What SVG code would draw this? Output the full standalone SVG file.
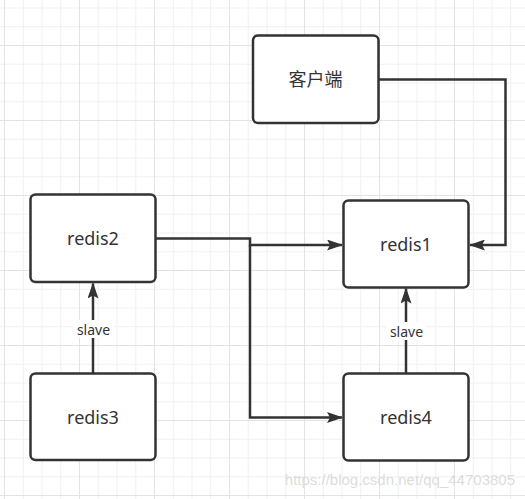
<svg xmlns="http://www.w3.org/2000/svg" width="525" height="499" viewBox="0 0 525 499">
<defs>
<pattern id="minor" x="4" y="7.5" width="18.75" height="18.75" patternUnits="userSpaceOnUse">
<path d="M0.5 0V18.75M0 0.5H18.75" fill="none" stroke="#f0f0f0" stroke-width="1"/>
</pattern>
<pattern id="major" x="4" y="-30" width="75" height="75" patternUnits="userSpaceOnUse">
<path d="M0.5 0V75M0 0.5H75" fill="none" stroke="#e3e3e3" stroke-width="1"/>
</pattern>
<marker id="arr" viewBox="0 0 16 11" refX="15" refY="5.5" markerWidth="16" markerHeight="11" orient="auto" markerUnits="userSpaceOnUse">
<path d="M0 0L16 5.5L0 11L3 5.5Z" fill="#333"/>
</marker>
</defs>
<style>
.node rect{fill:#fff;stroke:#333;stroke-width:2.5}
.node text{font-family:"Noto Sans","Noto Sans CJK SC",sans-serif;font-size:18px;fill:#333;text-anchor:middle;dominant-baseline:central}
.edge{fill:none;stroke:#333;stroke-width:2.5}
.lbl{font-family:"Noto Sans",sans-serif;font-size:14px;fill:#333;text-anchor:middle;dominant-baseline:central}
</style>
<rect width="525" height="499" fill="#fff"/>
<rect width="525" height="499" fill="url(#minor)"/>
<rect width="525" height="499" fill="url(#major)"/>
<g id="connectors">
<path class="edge" d="M379 79.5H505.5V245H470" marker-end="url(#arr)"/>
<path class="edge" d="M155.5 238.5H250V245H342" marker-end="url(#arr)"/>
<path class="edge" d="M250 245V417.5H342" marker-end="url(#arr)"/>
<path class="edge" d="M93 373V283.5" marker-end="url(#arr)"/>
<path class="edge" d="M406 373V288.5" marker-end="url(#arr)"/>
<rect x="74" y="320" width="40" height="18" fill="#fff"/>
<text class="lbl" x="93.5" y="329">slave</text>
<rect x="387" y="322" width="40" height="18" fill="#fff"/>
<text class="lbl" x="406.5" y="331">slave</text>
</g>
<g id="client" class="node"><rect x="253" y="35.5" width="125.5" height="87.5" rx="5"/><text x="315.5" y="79">客户端</text></g>
<g id="redis1" class="node"><rect x="343.5" y="200.5" width="125" height="87" rx="5"/><text x="406" y="244">redis1</text></g>
<g id="redis2" class="node"><rect x="30.5" y="194.5" width="125" height="87.5" rx="5"/><text x="93" y="238">redis2</text></g>
<g id="redis3" class="node"><rect x="30.5" y="373.5" width="125" height="86.5" rx="5"/><text x="93" y="417">redis3</text></g>
<g id="redis4" class="node"><rect x="343.5" y="373.5" width="125" height="87" rx="5"/><text x="406" y="417">redis4</text></g>
<text x="515" y="485" text-anchor="end" font-family="Liberation Sans,Arial,sans-serif" font-size="15" fill="#d8d8d8" fill-opacity="0.9">https://blog.csdn.net/qq_44703805</text>
</svg>
